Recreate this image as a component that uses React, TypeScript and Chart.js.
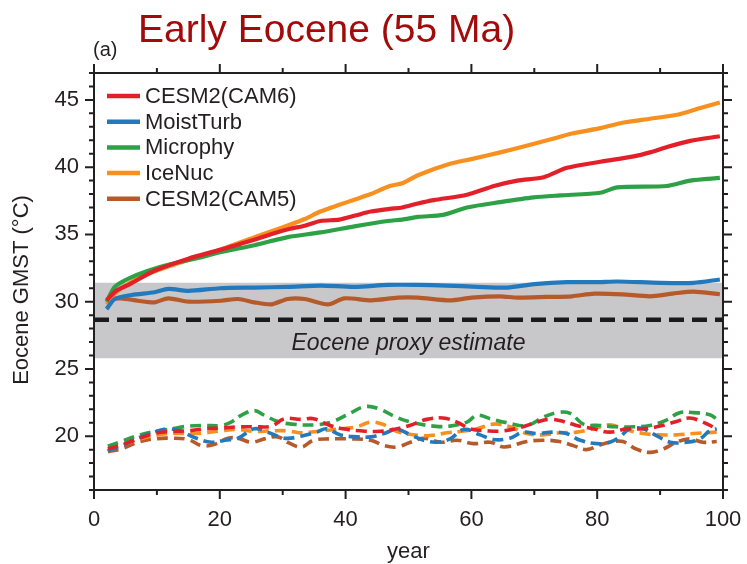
import React, { useEffect, useRef } from "react";
import { Chart, registerables } from "chart.js";

Chart.register(...registerables);

const FONT = "'Liberation Sans', Arial, Helvetica, sans-serif";
const TEXT = "#231f20";

const TITLE = "Early Eocene (55 Ma)";
const PANEL = "(a)";
const Y_TITLE = "Eocene GMST (°C)";
const X_TITLE = "year";
const PROXY_LABEL = "Eocene proxy estimate";

const X_MIN = 0;
const X_MAX = 100;
const Y_MIN = 16;
const Y_MAX = 47;
const X_TICKS = [0, 20, 40, 60, 80, 100];
const Y_TICKS = [20, 25, 30, 35, 40, 45];

// proxy estimate band (°C)
const PROXY_LOW = 25.8;
const PROXY_HIGH = 31.4;
const PROXY_BEST = 28.65;

const SERIES_NAMES = ["CESM2(CAM6)", "MoistTurb", "Microphy", "IceNuc", "CESM2(CAM5)"];
const SERIES_COLORS = ["#e3202a", "#2279bd", "#2ea147", "#f7901e", "#b65a2a"];

// ---- Eocene runs (solid) ----
const cam6Years = [2, 3.5, 5.7, 9.6, 15, 20, 25.5, 28, 31, 33.5, 36, 39, 41.5, 44, 47, 49, 51.5, 54, 59.3, 63.6, 67.3, 71.5, 75.2, 80.5, 85.8, 88.4, 91.1, 94.8, 99.5];
const cam6Eocene = [30.1, 30.8, 31.3, 32.3, 33.2, 33.85, 34.6, 35.0, 35.4, 35.65, 36.0, 36.1, 36.4, 36.7, 36.9, 37.0, 37.3, 37.55, 37.95, 38.6, 39.0, 39.25, 39.95, 40.4, 40.8, 41.1, 41.5, 41.95, 42.3];

const moistYears = [2, 3.3, 6, 9.6, 11.8, 15, 20, 25.5, 30.8, 36, 41.4, 46.7, 51.5, 56, 61, 65.7, 70, 75.2, 80, 83.2, 90, 95.3, 99.5];
const moistEocene = [29.45, 30.2, 30.5, 30.7, 30.95, 30.8, 31.0, 31.05, 31.1, 31.2, 31.1, 31.25, 31.25, 31.2, 31.1, 31.05, 31.3, 31.45, 31.45, 31.5, 31.4, 31.4, 31.65];

const microYears = [2, 3.3, 5.4, 8.6, 12.3, 16.5, 20.2, 25.5, 30.8, 36, 41.4, 46.7, 49, 51.5, 55.5, 59.3, 64.6, 69.9, 74.1, 80.5, 83.2, 91.1, 94.8, 99.5];
const microEocene = [30.0, 31.1, 31.7, 32.3, 32.8, 33.25, 33.7, 34.2, 34.8, 35.15, 35.6, 36.0, 36.1, 36.3, 36.45, 37.0, 37.4, 37.75, 37.9, 38.1, 38.5, 38.6, 39.0, 39.2];

const iceYears = [2, 3.3, 5, 8, 12, 16, 20, 25, 28, 31, 33.5, 36, 39, 41.5, 44, 47, 49, 51.5, 56.6, 60, 64.6, 68, 72.5, 76, 80.5, 84, 88.4, 92.7, 96.4, 99.5];
const iceEocene = [29.8, 30.6, 31.2, 31.95, 32.65, 33.25, 33.85, 34.7, 35.2, 35.7, 36.15, 36.7, 37.2, 37.6, 38.0, 38.6, 38.8, 39.4, 40.25, 40.6, 41.1, 41.5, 42.05, 42.5, 42.9, 43.3, 43.6, 43.9, 44.4, 44.8];

const cam5Years = [2, 4.3, 7, 9.6, 11.8, 15, 20.2, 22.9, 25.5, 28.2, 30.8, 33.5, 37.2, 39.8, 44.1, 48.3, 51.5, 56.6, 60, 64.6, 67.3, 72, 76, 79.5, 84, 88.4, 92, 95.3, 99.5];
const cam5Eocene = [30.2, 30.25, 30.07, 29.95, 30.25, 30.0, 30.07, 30.2, 29.95, 29.8, 30.2, 30.2, 29.8, 30.25, 30.1, 30.3, 30.3, 30.1, 30.3, 30.4, 30.3, 30.35, 30.4, 30.6, 30.55, 30.4, 30.6, 30.75, 30.55];

// ---- pre-industrial runs (dashed) ----
const cam6PiYears = [2.2, 4.3, 7, 9.6, 12.3, 15, 17.6, 20.2, 22.9, 25.5, 28.2, 30.3, 32.9, 34.9, 37.5, 39.6, 42.3, 44.9, 47.6, 50.2, 52.9, 55.5, 57.7, 59.8, 62.5, 65.2, 68.2, 70.4, 72.5, 74.6, 76.7, 79.4, 82, 84.7, 87.3, 90, 92.6, 94.7, 96.8, 99];
const cam6Pi = [19.05, 19.35, 19.8, 20.2, 20.35, 20.4, 20.55, 20.6, 20.7, 20.7, 20.75, 21.3, 21.25, 21.3, 20.8, 20.55, 20.4, 20.35, 20.5, 20.8, 21.25, 21.35, 21.05, 20.55, 20.4, 20.4, 20.7, 21.05, 21.25, 21.1, 20.8, 20.55, 20.3, 20.55, 20.55, 20.75, 21.1, 21.35, 21.05, 20.55];

const moistPiYears = [2.2, 4.3, 7, 9.6, 11.8, 13.9, 16, 18.7, 20.8, 22.9, 25.5, 27.6, 30.3, 32.9, 35.4, 37, 39.1, 41.8, 44, 46.1, 48.2, 50.3, 52.4, 54.5, 56.6, 58.8, 61.4, 63.5, 66.1, 68.2, 70.4, 73, 75.1, 77.3, 79.9, 82, 83.6, 85.2, 87.3, 89.4, 91.6, 94.2, 96.3, 97.9, 99];
const moistPi = [18.9, 19.25, 19.85, 20.3, 20.55, 20.35, 19.9, 19.55, 19.7, 19.85, 20.55, 20.3, 19.85, 20.0, 20.3, 20.55, 20.1, 19.95, 19.95, 20.2, 20.5, 20.1, 19.7, 19.55, 19.8, 20.5, 20.1, 19.75, 19.85, 20.3, 20.2, 20.3, 20.2, 19.7, 19.45, 19.55, 19.95, 20.55, 20.55, 20.05, 19.55, 19.55, 19.8, 20.4, 20.55];

const microPiYears = [2.2, 4.3, 7, 9.6, 12.3, 15, 17.6, 20.2, 21.8, 23.4, 25.5, 27.1, 29.2, 31.4, 35.4, 38, 40.7, 43.1, 45.5, 48.1, 50.8, 54, 56.6, 59.3, 60.9, 63, 65.7, 68.8, 71.4, 73.6, 75.7, 77.8, 80.4, 83.1, 85.8, 88.4, 91, 93.1, 95.3, 97.9, 99.2];
const microPi = [19.25, 19.6, 20.05, 20.35, 20.55, 20.75, 20.8, 20.8, 21.05, 21.55, 21.9, 21.55, 21.1, 20.9, 20.85, 21.1, 21.7, 22.2, 22.0, 21.4, 21.0, 20.75, 20.75, 21.05, 21.55, 21.3, 21.0, 20.8, 21.4, 21.75, 21.7, 20.9, 20.8, 20.7, 20.7, 20.8, 21.2, 21.75, 21.75, 21.6, 21.2];

const icePiYears = [2.2, 4.3, 7, 9.6, 12.3, 15, 17.6, 20.2, 22.9, 25.5, 28.2, 30.8, 32.8, 35.4, 39.1, 41.8, 44, 46.1, 48.2, 50.8, 53.4, 56.1, 58.2, 60.9, 63.5, 66.2, 68.8, 71.4, 74, 76.7, 79.4, 82, 84.1, 87.3, 90, 92.6, 95.3, 99];
const icePi = [18.9, 19.3, 19.75, 20.05, 20.2, 20.2, 20.25, 20.4, 20.5, 20.35, 20.4, 20.4, 20.25, 20.35, 20.55, 20.7, 21.05, 20.85, 20.35, 20.1, 20.05, 20.25, 20.35, 20.55, 20.9, 20.7, 20.2, 20.1, 20.25, 20.3, 20.55, 20.85, 20.55, 20.2, 20.1, 20.1, 20.2, 20.3];

const cam5PiYears = [2.2, 4.3, 7, 9.6, 12.3, 15, 17.1, 19.2, 21.3, 22.9, 25, 27.1, 29.2, 31, 33, 34.9, 37.5, 40.7, 44, 46.1, 48.2, 50.3, 52.4, 55.1, 57.7, 60.3, 63, 65.2, 68.8, 71.4, 74, 76.2, 78.3, 80.4, 82.5, 84.1, 86.2, 88.4, 90.5, 92.6, 94.7, 96.8, 99];
const cam5Pi = [18.85, 19.05, 19.55, 19.8, 19.85, 19.75, 19.3, 19.4, 19.85, 19.85, 19.55, 19.8, 19.95, 19.5, 19.2, 19.7, 19.8, 19.8, 19.7, 19.3, 19.2, 19.55, 19.85, 19.55, 19.7, 19.45, 19.55, 19.2, 19.6, 19.7, 19.6, 19.3, 19.0, 19.35, 19.6, 19.6, 19.05, 18.8, 19.05, 19.55, 19.8, 19.55, 19.6];

const EOCENE_RUNS = [
  [cam6Years, cam6Eocene],
  [moistYears, moistEocene],
  [microYears, microEocene],
  [iceYears, iceEocene],
  [cam5Years, cam5Eocene],
];
const PI_RUNS = [
  [cam6PiYears, cam6Pi],
  [moistPiYears, moistPi],
  [microPiYears, microPi],
  [icePiYears, icePi],
  [cam5PiYears, cam5Pi],
];

const toPoints = (xs: number[], ys: number[]) => xs.map((x, i) => ({ x, y: ys[i] }));

const decorPlugin = {
  id: "decor",
  afterDraw(chart: any) {
    const { ctx, chartArea, scales } = chart;
    const { left, right, top, bottom } = chartArea;
    const xs = scales.x;
    const ys = scales.y;
    ctx.save();

    // frame
    ctx.strokeStyle = TEXT;
    ctx.lineWidth = 2;
    ctx.strokeRect(left, top, right - left, bottom - top);

    // ticks (outward, all sides)
    ctx.lineWidth = 2;
    ctx.beginPath();
    for (let v = X_MIN; v <= X_MAX; v += 10) {
      const len = v % 20 === 0 ? 9 : 5;
      const px = xs.getPixelForValue(v);
      ctx.moveTo(px, bottom);
      ctx.lineTo(px, bottom + len);
      ctx.moveTo(px, top);
      ctx.lineTo(px, top - len);
    }
    for (let v = Y_MIN; v <= Y_MAX; v += 1) {
      const len = v % 5 === 0 ? 9 : 5;
      const py = ys.getPixelForValue(v);
      ctx.moveTo(left, py);
      ctx.lineTo(left - len, py);
      ctx.moveTo(right, py);
      ctx.lineTo(right + len, py);
    }
    ctx.stroke();

    // proxy label
    ctx.fillStyle = TEXT;
    ctx.font = `italic 23px ${FONT}`;
    ctx.textAlign = "center";
    ctx.textBaseline = "alphabetic";
    ctx.fillText(PROXY_LABEL, xs.getPixelForValue(50), ys.getPixelForValue(26.4));

    // legend
    ctx.font = `22px ${FONT}`;
    ctx.textAlign = "left";
    ctx.textBaseline = "middle";
    SERIES_NAMES.forEach((name, i) => {
      const y = 96 + i * 25.7;
      ctx.strokeStyle = SERIES_COLORS[i];
      ctx.lineWidth = 4.5;
      ctx.beginPath();
      ctx.moveTo(107, y);
      ctx.lineTo(140, y);
      ctx.stroke();
      ctx.fillStyle = TEXT;
      ctx.fillText(name, 145, y + 1);
    });

    // title
    ctx.fillStyle = "#a30b0b";
    ctx.font = `39px ${FONT}`;
    ctx.textAlign = "left";
    ctx.textBaseline = "alphabetic";
    ctx.fillText(TITLE, 138, 42);

    // panel label
    ctx.fillStyle = TEXT;
    ctx.font = `20px ${FONT}`;
    ctx.fillText(PANEL, 93, 56);

    // axis titles
    ctx.font = `22px ${FONT}`;
    ctx.textAlign = "center";
    ctx.fillText(X_TITLE, (left + right) / 2, 558);
    ctx.save();
    ctx.translate(22, 290);
    ctx.rotate(-Math.PI / 2);
    ctx.textBaseline = "middle";
    ctx.fillText(Y_TITLE, 0, 0);
    ctx.restore();

    ctx.restore();
  },
};

export default function App() {
  const ref = useRef<HTMLCanvasElement | null>(null);

  useEffect(() => {
    document.body.style.margin = "0";
    const canvas = ref.current;
    if (!canvas) return;

    const datasets: any[] = [];
    EOCENE_RUNS.forEach(([xs, ys], i) => {
      datasets.push({
        label: SERIES_NAMES[i],
        data: toPoints(xs as number[], ys as number[]),
        borderColor: SERIES_COLORS[i],
        backgroundColor: SERIES_COLORS[i],
        borderWidth: 4.2,
        pointRadius: 0,
        tension: 0.25,
        fill: false,
        order: 1,
      });
    });
    PI_RUNS.forEach(([xs, ys], i) => {
      datasets.push({
        label: SERIES_NAMES[i] + " PI",
        data: toPoints(xs as number[], ys as number[]),
        borderColor: SERIES_COLORS[i],
        backgroundColor: SERIES_COLORS[i],
        borderWidth: 3.6,
        borderDash: [11, 6],
        pointRadius: 0,
        tension: 0.4,
        fill: false,
        order: 2,
      });
    });
    datasets.push({
      label: "proxy best",
      data: [
        { x: X_MIN, y: PROXY_BEST },
        { x: X_MAX, y: PROXY_BEST },
      ],
      borderColor: "#1a1a1a",
      borderWidth: 4.5,
      borderDash: [15, 8],
      pointRadius: 0,
      fill: false,
      order: 3,
    });
    datasets.push({
      label: "proxy range",
      data: [
        { x: X_MIN, y: PROXY_HIGH },
        { x: X_MAX, y: PROXY_HIGH },
      ],
      borderColor: "rgba(0,0,0,0)",
      borderWidth: 1,
      backgroundColor: "#c8c8ca",
      pointRadius: 0,
      fill: { value: PROXY_LOW },
      order: 4,
    });

    const chart = new Chart(canvas, {
      type: "line",
      data: { datasets },
      options: {
        animation: false,
        responsive: false,
        devicePixelRatio: 1,
        layout: { padding: { top: 73, right: 24, left: 0, bottom: 0 } },
        plugins: {
          legend: { display: false },
          tooltip: { enabled: false },
          title: { display: false },
        },
        scales: {
          x: {
            type: "linear",
            min: X_MIN,
            max: X_MAX,
            afterBuildTicks: (s: any) => {
              s.ticks = X_TICKS.map((value) => ({ value }));
            },
            afterFit: (s: any) => {
              s.height = 74;
              s.paddingLeft = 0;
              s.paddingRight = 0;
            },
            grid: { display: false, drawTicks: false },
            border: { display: false },
            ticks: {
              font: { family: FONT, size: 22 },
              color: TEXT,
              padding: 17,
              maxRotation: 0,
              autoSkip: false,
            },
          },
          y: {
            type: "linear",
            min: Y_MIN,
            max: Y_MAX,
            afterBuildTicks: (s: any) => {
              s.ticks = Y_TICKS.map((value) => ({ value }));
            },
            afterFit: (s: any) => {
              s.width = 94;
              s.paddingTop = 0;
              s.paddingBottom = 0;
            },
            grid: { display: false, drawTicks: false },
            border: { display: false },
            ticks: {
              font: { family: FONT, size: 22 },
              color: TEXT,
              padding: 15,
              autoSkip: false,
            },
          },
        },
      },
      plugins: [decorPlugin],
    });

    return () => chart.destroy();
  }, []);

  return (
    <div style={{ width: 747, height: 564, position: "relative", background: "#fff" }}>
      <canvas ref={ref} width={747} height={564} style={{ display: "block", width: 747, height: 564 }} />
    </div>
  );
}
